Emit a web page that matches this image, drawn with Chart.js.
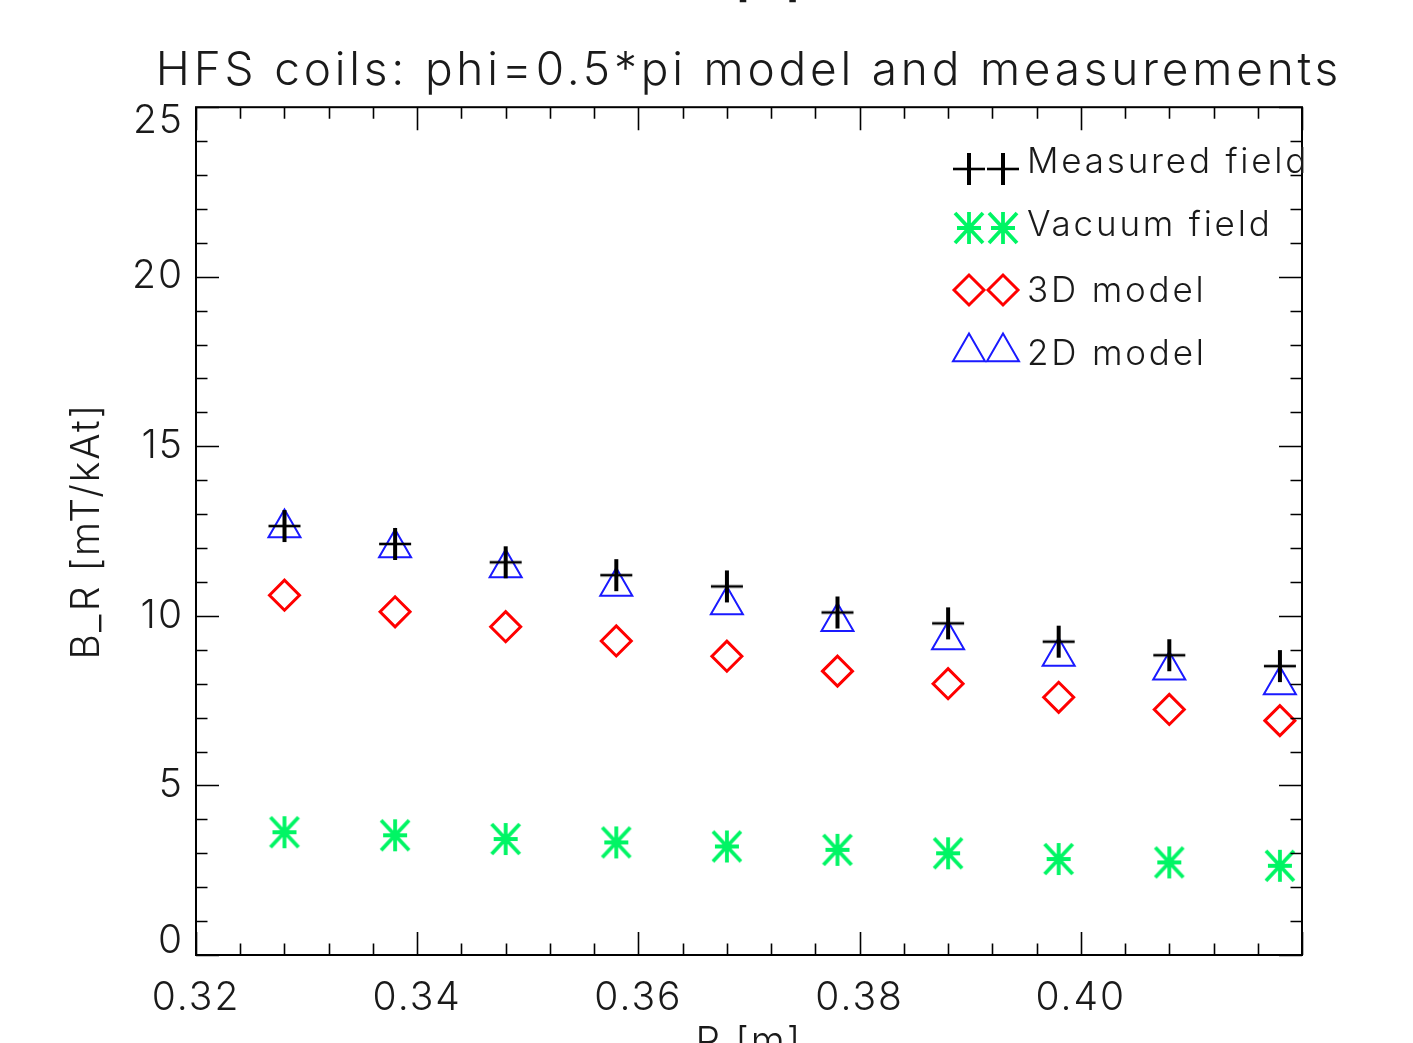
<!DOCTYPE html>
<html><head><meta charset="utf-8">
<script src="https://cdn.jsdelivr.net/npm/chart.js@4.4.1/dist/chart.umd.min.js"></script>
<style>html,body{margin:0;padding:0;background:#fff;overflow:hidden;}</style>
</head><body>
<canvas id="c" width="1413" height="1043"></canvas>
<script>
// ---------- data ----------
const chartTitle = 'HFS coils: phi=0.5*pi model and measurements';
const xAxisTitle = 'R [m]';
const yAxisTitle = 'B_R [mT/kAt]';
const seriesNames = ['Measured field', 'Vacuum field', '3D model', '2D model'];
const radiusR = [0.328, 0.338, 0.348, 0.358, 0.368, 0.378, 0.388, 0.398, 0.408, 0.418];
const measuredField = [12.65, 12.12, 11.58, 11.20, 10.87, 10.10, 9.78, 9.24, 8.84, 8.52];
const vacuumField = [3.62, 3.53, 3.42, 3.32, 3.20, 3.10, 3.00, 2.83, 2.73, 2.63];
const model3D = [10.61, 10.12, 9.68, 9.26, 8.81, 8.37, 8.00, 7.60, 7.24, 6.91];
const model2D = [12.59, 12.00, 11.41, 10.87, 10.32, 9.83, 9.29, 8.80, 8.40, 7.96];
const xTickValues = [0.32, 0.34, 0.36, 0.38, 0.40];
const xTickLabels = ['0.32', '0.34', '0.36', '0.38', '0.40'];
const yTickValues = [0, 5, 10, 15, 20, 25];
const yTickLabels = ['0', '5', '10', '15', '20', '25'];

// ---------- styles ----------
const FONT = "Inter, 'Open Sans', Roboto, 'DejaVu Sans', sans-serif";
const TEXT = '#1a1a1a';
const GREEN = '#00f564';

function makeSymbol(drawFn) {
  const c = document.createElement('canvas');
  c.width = 36; c.height = 36;
  const g = c.getContext('2d');
  g.lineCap = 'butt';
  drawFn(g);
  return c;
}
const crossSymbol = makeSymbol(g => {
  g.strokeStyle = '#000';
  g.lineWidth = 4;
  g.beginPath(); g.moveTo(18, 2); g.lineTo(18, 34); g.stroke();
  g.lineWidth = 2.6;
  g.beginPath(); g.moveTo(2, 18); g.lineTo(34, 18); g.stroke();
});
const starSymbol = makeSymbol(g => {
  g.strokeStyle = GREEN;
  g.lineWidth = 3.8;
  g.beginPath();
  g.moveTo(18, 2); g.lineTo(18, 34);
  g.moveTo(6, 18); g.lineTo(30, 18);
  g.moveTo(4, 3); g.lineTo(32, 33);
  g.moveTo(32, 3); g.lineTo(4, 33);
  g.stroke();
});

const seriesStyle = [
  {pointStyle: crossSymbol, radius: 16, color: '#000000', width: 3},
  {pointStyle: starSymbol, radius: 16, color: GREEN, width: 3},
  {pointStyle: 'rectRot', radius: 15, color: '#ff0000', width: 3},
  {pointStyle: 'triangle', radius: 18.5, color: '#1a1aff', width: 2}
];
const seriesData = [measuredField, vacuumField, model3D, model2D];

function toPoints(ys) { return radiusR.map((x, i) => ({x: x, y: ys[i]})); }

const spacingPlugin = {
  id: 'spacing',
  beforeLayout(chart) { chart.ctx.letterSpacing = '2px'; },
  beforeDraw(chart) { chart.ctx.letterSpacing = '2px'; }
};

const framePlugin = {
  id: 'frame',
  afterDraw(chart) {
    const ctx = chart.ctx, a = chart.chartArea;
    const xs = chart.scales.x, ys = chart.scales.y;
    ctx.save();
    ctx.strokeStyle = '#000';
    ctx.lineWidth = 2;
    ctx.strokeRect(a.left, a.top, a.right - a.left, a.bottom - a.top);
    ctx.lineWidth = 1.6;
    ctx.beginPath();
    for (let i = 0; i <= 25; i++) {
      const px = Math.round(xs.getPixelForValue(0.32 + i * 0.004)) + 0.5;
      const len = (i % 5 === 0) ? 23 : 11.5;
      ctx.moveTo(px, a.bottom); ctx.lineTo(px, a.bottom - len);
      ctx.moveTo(px, a.top); ctx.lineTo(px, a.top + len);
    }
    for (let i = 0; i <= 25; i++) {
      const py = Math.round(ys.getPixelForValue(i)) + 0.5;
      const len = (i % 5 === 0) ? 23 : 11.5;
      ctx.moveTo(a.left, py); ctx.lineTo(a.left + len, py);
      ctx.moveTo(a.right, py); ctx.lineTo(a.right - len, py);
    }
    ctx.stroke();
    ctx.restore();

    // legend: two symbols per entry
    ctx.save();
    ctx.letterSpacing = '2.8px';
    const rowY = [162, 225, 291, 354];
    const symOff = [7, 3, -1, -2];
    const symX = [969, 1003];
    ctx.font = '300 35px ' + FONT;
    ctx.textBaseline = 'middle';
    ctx.textAlign = 'left';
    seriesNames.forEach((name, k) => {
      const st = seriesStyle[k];
      ctx.strokeStyle = st.color;
      ctx.fillStyle = 'rgba(0,0,0,0)';
      ctx.lineWidth = st.width;
      symX.forEach(sx => {
        Chart.helpers.drawPoint(ctx, {pointStyle: st.pointStyle, radius: st.radius, borderWidth: st.width, rotation: 0}, sx, rowY[k] + symOff[k]);
      });
      ctx.fillStyle = TEXT;
      ctx.fillText(name, 1027, rowY[k]);
    });
    // label of the panel above, cut off by the top edge
    ctx.letterSpacing = '2px';
    ctx.font = '300 39px ' + FONT;
    ctx.textAlign = 'center';
    ctx.textBaseline = 'alphabetic';
    ctx.fillText(xAxisTitle, (a.left + a.right) / 2, -3);
    ctx.restore();
  }
};

const datasets = seriesNames.map((name, k) => ({
  label: name,
  data: toPoints(seriesData[k]),
  showLine: false,
  pointStyle: seriesStyle[k].pointStyle,
  pointRadius: seriesStyle[k].radius,
  pointBorderWidth: seriesStyle[k].width,
  borderColor: seriesStyle[k].color,
  pointBorderColor: seriesStyle[k].color,
  backgroundColor: 'rgba(0,0,0,0)',
  pointBackgroundColor: 'rgba(0,0,0,0)'
}));

Chart.defaults.color = TEXT;
Chart.defaults.font.family = FONT;
Chart.defaults.font.weight = 300;

const chart = new Chart(document.getElementById('c'), {
  type: 'scatter',
  data: {datasets: datasets},
  plugins: [spacingPlugin, framePlugin],
  options: {
    responsive: false,
    animation: false,
    events: [],
    layout: {padding: {left: 0, right: 111, top: 0, bottom: 0}},
    plugins: {
      legend: {display: false},
      tooltip: {enabled: false},
      title: {
        display: true,
        text: chartTitle,
        fullSize: false,
        color: TEXT,
        font: {size: 46, weight: 300, family: FONT},
        padding: {top: 44, bottom: 8}
      }
    },
    scales: {
      x: {
        type: 'linear',
        min: 0.32, max: 0.42,
        grid: {display: false, drawTicks: false},
        border: {display: false},
        afterBuildTicks(scale) { scale.ticks = xTickValues.map(v => ({value: v})); },
        afterFit(scale) { scale.height = 88; },
        ticks: {
          padding: 20,
          maxRotation: 0,
          autoSkip: false,
          font: {size: 39, weight: 300, family: FONT},
          callback: (v, i) => xTickLabels[i]
        },
        title: {
          display: true,
          text: xAxisTitle,
          font: {size: 39, weight: 300, family: FONT},
          padding: {top: 0, bottom: -24}
        }
      },
      y: {
        type: 'linear',
        min: 0, max: 25,
        grid: {display: false, drawTicks: false},
        border: {display: false},
        afterBuildTicks(scale) { scale.ticks = yTickValues.map(v => ({value: v})); },
        afterFit(scale) { scale.width = 196; },
        ticks: {
          padding: 12,
          autoSkip: false,
          font: {size: 39, weight: 300, family: FONT, lineHeight: 0.72},
          // end labels sit just inside the axis range, as in the original
          callback: (v, i) => i === 0 ? [yTickLabels[i], ''] :
                              (i === yTickLabels.length - 1 ? ['', yTickLabels[i]] : yTickLabels[i])
        },
        title: {
          display: true,
          text: yAxisTitle,
          font: {size: 39, weight: 300, family: FONT},
          padding: {top: 64, bottom: 0}
        }
      }
    }
  }
});

// the original title is wider than the plot frame and widely tracked:
// let it overhang the frame symmetrically instead of being squeezed to fit
if (chart.titleBlock) {
  const tb = chart.titleBlock;
  const origDraw = tb.draw.bind(tb);
  tb.draw = function (area) {
    const ctx = chart.ctx;
    const prev = ctx.letterSpacing;
    const L = tb.left, R = tb.right;
    tb.left = L - 120; tb.right = R + 120;
    ctx.letterSpacing = '3.8px';
    origDraw(area);
    ctx.letterSpacing = prev;
    tb.left = L; tb.right = R;
  };
  chart.update();
}
</script>
</body></html>
